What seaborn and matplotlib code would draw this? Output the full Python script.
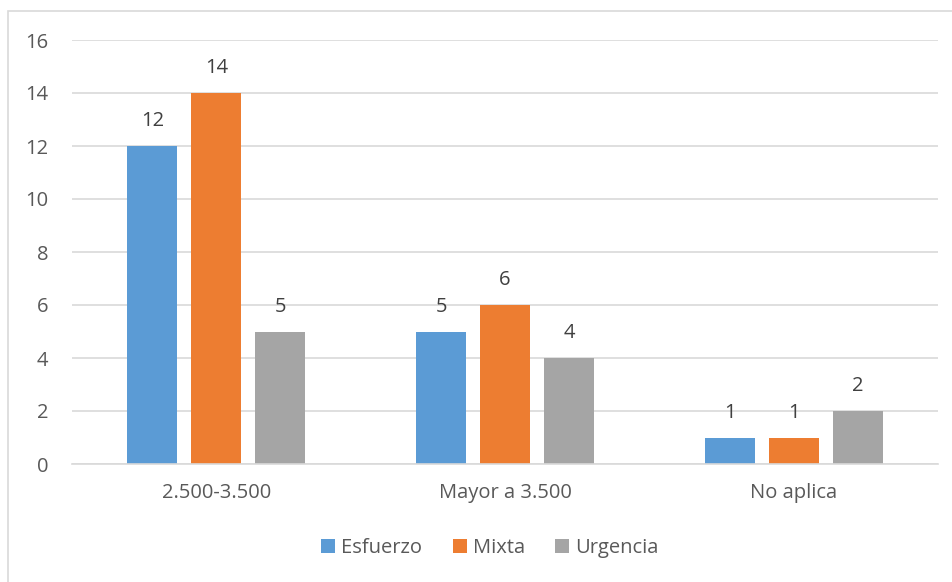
import matplotlib
matplotlib.use("Agg")
import matplotlib.pyplot as plt
import seaborn as sns
import pandas as pd
from matplotlib.patches import Rectangle

categories = ["2.500-3.500", "Mayor a 3.500", "No aplica"]
esfuerzo = [12, 5, 1]
mixta = [14, 6, 1]
urgencia = [5, 4, 2]
series_names = ["Esfuerzo", "Mixta", "Urgencia"]
colors = ["#5b9bd5", "#ed7d31", "#a5a5a5"]
y_ticks = [0, 2, 4, 6, 8, 10, 12, 14, 16]

rows = []
for name, vals in zip(series_names, [esfuerzo, mixta, urgencia]):
    for cat, v in zip(categories, vals):
        rows.append({"categoria": cat, "serie": name, "valor": v})
df = pd.DataFrame(rows)

sns.set_theme(style="white")
plt.rcParams["font.family"] = ["Open Sans", "DejaVu Sans"]
text_color = "#595959"
fs = 14.5

fig = plt.figure(figsize=(9.53, 5.82), dpi=100)
ax = fig.add_axes([72 / 953, 1 - 464 / 582, (938 - 72) / 953, (464 - 40) / 582])

sns.barplot(data=df, x="categoria", y="valor", hue="serie", order=categories,
            hue_order=series_names, palette=colors, width=0.665, gap=0.22,
            saturation=1, linewidth=0, edgecolor="none", ax=ax, legend=True)

for cont in ax.containers:
    ax.bar_label(cont, fmt="%d", padding=10.5, fontsize=fs, color="#404040")

ax.set_ylim(0, 16)
ax.set_xlim(-0.5, 2.5)
ax.set_yticks(y_ticks)
ax.set_yticklabels([str(t) for t in y_ticks])
ax.yaxis.grid(True, color="#d9d9d9", linewidth=1.2)
ax.set_axisbelow(True)
for s in ["top", "right", "left"]:
    ax.spines[s].set_visible(False)
ax.spines["bottom"].set_color("#d9d9d9")
ax.spines["bottom"].set_linewidth(1.2)
ax.tick_params(axis="both", length=0, labelsize=fs, labelcolor=text_color)
ax.tick_params(axis="y", pad=17)
ax.tick_params(axis="x", pad=14)
ax.set_xlabel("")
ax.set_ylabel("")

handles, labels = ax.get_legend_handles_labels()
ax.legend_.remove()
fig.legend(handles, labels, loc="center", bbox_to_anchor=(490 / 953, 1 - 548 / 582),
           ncol=3, frameon=False, fontsize=fs, labelcolor=text_color,
           handlelength=0.7, handleheight=0.7, handletextpad=0.3, columnspacing=1.5)

# chart-area border
fig.patches.append(Rectangle((8 / 953, -0.05), 1.0, 1 - 11 / 582 + 0.05,
                             transform=fig.transFigure, fill=False,
                             edgecolor="#d9d9d9", linewidth=1.2, zorder=0))

fig.savefig("out.png", dpi=100)
